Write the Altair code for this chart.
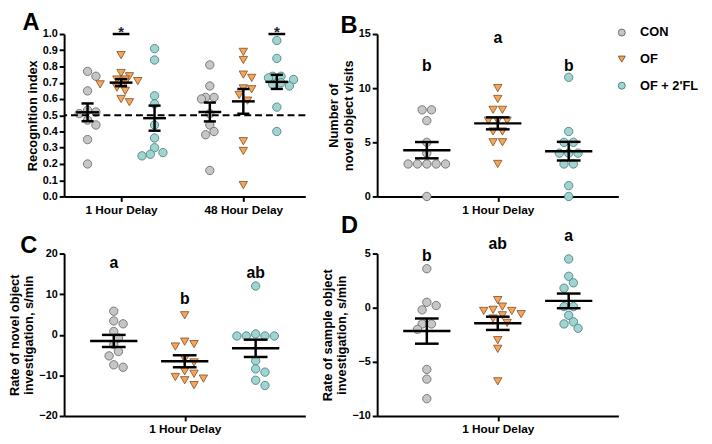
import math
import altair as alt
import pandas as pd

FONT = "Liberation Sans"

groups = ["CON", "OF", "OF + 2'FL"]
fills = ["#c6c6c6", "#f5a65b", "#a1d4d1"]
strokes = ["#6e6e6e", "#8c5a2e", "#4a8583"]
shapes = ["circle", "triangle-down", "circle"]

# Panel A: recognition index
a1_con = [0.77, 0.74, 0.65, 0.53, 0.52, 0.51, 0.47, 0.44, 0.35, 0.20]
a1_of = [0.87, 0.76, 0.74, 0.72, 0.72, 0.71, 0.70, 0.69, 0.67, 0.65, 0.60, 0.58]
a1_fl = [0.91, 0.84, 0.62, 0.57, 0.44, 0.36, 0.30, 0.27, 0.26, 0.25]
a48_con = [0.81, 0.68, 0.61, 0.61, 0.60, 0.51, 0.44, 0.40, 0.38, 0.16]
a48_of = [0.89, 0.84, 0.75, 0.73, 0.665, 0.66, 0.625, 0.59, 0.34, 0.28, 0.07]
a48_fl = [0.96, 0.85, 0.74, 0.74, 0.73, 0.72, 0.70, 0.69, 0.68, 0.55, 0.40]
a_delays = ["1 Hour Delay", "48 Hour Delay"]
a_sig = ["*", "*"]

# Panel B: number of novel object visits
b_con = [8, 8, 7, 5, 4, 3, 3, 3, 3, 3, 0]
b_of = [10, 9, 8, 8, 7, 7, 7, 6, 6, 5, 5, 3]
b_fl = [11, 6, 5, 5, 4, 4, 4, 3, 3, 1, 0]
b_letters = ["b", "a", "b"]
b_letter_y = [11.6, 14.2, 11.6]

# Panel C: rate of novel object investigation
c_con = [5.8, 3.4, 2.7, 0.8, -0.8, -2.4, -4.1, -5.2, -7.4, -8.0]
c_of = [4.8, -1.7, -2.3, -2.9, -6.0, -6.8, -9.0, -9.6, -10.4, -10.8, -11.2, -12.4]
c_fl = [12.0, 0.2, -0.3, -0.3, -0.3, -0.3, -6.4, -8.4, -9.2, -11.2, -12.5]
c_letters = ["a", "b", "ab"]
c_letter_y = [16.5, 7.6, 13.9]

# Panel D: rate of sample object investigation
d_con = [3.6, 0.5, 0.2, -0.2, -1.5, -1.5, -2.0, -5.7, -6.6, -8.4]
d_of = [0.7, 0.1, -0.2, -0.3, -0.3, -0.6, -0.7, -1.0, -1.4, -3.0, -3.8, -6.8]
d_fl = [4.5, 2.9, 2.3, 1.8, 0.1, 0.1, -0.7, -1.3, -1.5, -1.9]
d_letters = ["b", "ab", "a"]
d_letter_y = [4.32, 5.39, 6.13]

W, H = 245, 165


def swarm(vals, ppy, d, mind=0.85):
    n = len(vals)
    order = sorted(range(n), key=lambda i: -vals[i])
    cands = [0.0] + [s * k * 0.5 * d for k in range(1, 40) for s in (1, -1)]
    placed, off = [], [0.0] * n
    for i in order:
        y = vals[i] * ppy
        for c in cands:
            if all((c - px) ** 2 + (y - py) ** 2 >= (mind * d) ** 2 for px, py in placed):
                break
        placed.append((c, y))
        off[i] = c
    for v in set(vals):
        idx = [i for i in range(n) if vals[i] == v]
        if len(idx) > 1:
            m = sum(off[i] for i in idx) / len(idx)
            for i in idx:
                off[i] -= m
    return off


def build(series, ppx, ppy, d, half_mean, half_cap):
    rows, summ = [], []
    for vals, c, g in series:
        offs = swarm(vals, ppy, d)
        for v, o in zip(vals, offs):
            rows.append({"group": g, "x": c + o / ppx, "y": v})
        n = len(vals)
        m = sum(vals) / n
        sd = math.sqrt(sum((v - m) ** 2 for v in vals) / (n - 1))
        se = sd / math.sqrt(n)
        summ.append({"group": g, "xc": c, "xm1": c - half_mean, "xm2": c + half_mean,
                     "xc1": c - half_cap, "xc2": c + half_cap,
                     "mean": m, "lo": m - se, "hi": m + se})
    return pd.DataFrame(rows), pd.DataFrame(summ)


leg = alt.Legend(title=None, orient="none", legendX=560, legendY=-8)


def panel(df, sm, xdom, xvals, xexpr, ydom, yvals, yfmt, ytitle, letter, toff, tdx, extra=None):
    xs = alt.Scale(domain=xdom, nice=False, zero=False)
    ys = alt.Scale(domain=ydom, nice=False, zero=False)
    xa = alt.Axis(values=xvals, labelExpr=xexpr, title=None, grid=False)
    ya = alt.Axis(values=yvals, format=yfmt, title=ytitle, grid=False)

    def X(f):
        return alt.X(f, type="quantitative", scale=xs, axis=xa)

    def Y(f):
        return alt.Y(f, type="quantitative", scale=ys, axis=ya)

    pts = alt.Chart(df).mark_point(filled=True, opacity=1, size=72, strokeWidth=0.9).encode(
        x=X("x"), y=Y("y"),
        fill=alt.Fill("group:N", scale=alt.Scale(domain=groups, range=fills), legend=leg),
        stroke=alt.Stroke("group:N", scale=alt.Scale(domain=groups, range=strokes), legend=leg),
        shape=alt.Shape("group:N", scale=alt.Scale(domain=groups, range=shapes), legend=leg),
    )
    base = alt.Chart(sm)
    mean = base.mark_rule(color="black", strokeWidth=2.5).encode(x=X("xm1"), x2=alt.X2("xm2"), y=Y("mean"))
    vert = base.mark_rule(color="black", strokeWidth=2.5).encode(x=X("xc"), y=Y("lo"), y2=alt.Y2("hi"))
    cap1 = base.mark_rule(color="black", strokeWidth=2.5).encode(x=X("xc1"), x2=alt.X2("xc2"), y=Y("lo"))
    cap2 = base.mark_rule(color="black", strokeWidth=2.5).encode(x=X("xc1"), x2=alt.X2("xc2"), y=Y("hi"))
    layers = [pts, mean, vert, cap1, cap2]
    if extra is not None:
        layers += extra(X, Y)
    return alt.layer(*layers).properties(
        width=W, height=H,
        title=alt.TitleParams(letter, anchor="start", frame="bounds", fontSize=24,
                              fontWeight="bold", font=FONT, color="black", offset=toff, dx=tdx),
    )


# ---- Panel A
ppxA = W / 7.2
ca = [0.7, 1.7, 2.7]
cb = [4.35, 5.35, 6.35]
dfA, smA = build(
    [(a1_con, ca[0], groups[0]), (a1_of, ca[1], groups[1]), (a1_fl, ca[2], groups[2]),
     (a48_con, cb[0], groups[0]), (a48_of, cb[1], groups[1]), (a48_fl, cb[2], groups[2])],
    ppxA, H / 1.0, 8.5, 0.34, 0.18)


def extraA(X, Y):
    dash = alt.Chart(pd.DataFrame({"y": [0.5]})).mark_rule(
        color="black", strokeWidth=2, strokeDash=[7, 4]).encode(y=Y("y"))
    sig = pd.DataFrame({"xc": [ca[1], cb[2]], "x1": [ca[1] - 0.25, cb[2] - 0.25],
                        "x2": [ca[1] + 0.25, cb[2] + 0.25], "y": [1.0, 1.0], "t": a_sig})
    line = alt.Chart(sig).mark_rule(color="black", strokeWidth=2.5).encode(
        x=X("x1"), x2=alt.X2("x2"), y=Y("y"))
    star = alt.Chart(sig).mark_text(font=FONT, fontSize=15, fontWeight="bold", color="#1b1b3a",
                                    baseline="alphabetic", dy=3).encode(x=X("xc"), y=Y("y"), text="t:N")
    return [dash, line, star]


chartA = panel(dfA, smA, [0, 7.2], [ca[1], cb[1]],
               "datum.value < 3 ? '%s' : '%s'" % (a_delays[0], a_delays[1]),
               [0, 1], [round(i * 0.1, 1) for i in range(11)], ".1f",
               "Recognition index", "A", -10, -4, extraA)

# ---- Panels B, C, D
ppx = W / 3.4
cc = [0.7, 1.7, 2.7]


def letters_layer(labels, ys):
    def f(X, Y):
        t = pd.DataFrame({"x": cc, "y": ys, "t": labels})
        return [alt.Chart(t).mark_text(font=FONT, fontSize=16, fontWeight="bold", color="black",
                                       baseline="alphabetic").encode(x=X("x"), y=Y("y"), text="t:N")]
    return f


dfB, smB = build([(b_con, cc[0], groups[0]), (b_of, cc[1], groups[1]), (b_fl, cc[2], groups[2])],
                 ppx, H / 15, 9.5, 0.333, 0.167)
chartB = panel(dfB, smB, [0, 3.4], [1.7], "'1 Hour Delay'", [0, 15], [0, 5, 10, 15], "d",
               ["Number of", "novel object visits"], "B", -10, 13, letters_layer(b_letters, b_letter_y))

dfC, smC = build([(c_con, cc[0], groups[0]), (c_of, cc[1], groups[1]), (c_fl, cc[2], groups[2])],
                 ppx, H / 40, 9.5, 0.333, 0.167)
chartC = panel(dfC, smC, [0, 3.4], [1.7], "'1 Hour Delay'", [-20, 20], [-20, -10, 0, 10, 20], "d",
               ["Rate of novel object", "investigation, s/min"], "C", -10, 12,
               letters_layer(c_letters, c_letter_y))

dfD, smD = build([(d_con, cc[0], groups[0]), (d_of, cc[1], groups[1]), (d_fl, cc[2], groups[2])],
                 ppx, H / 15, 9.5, 0.333, 0.167)
chartD = panel(dfD, smD, [0, 3.4], [1.7], "'1 Hour Delay'", [-10, 5], [-10, -5, 0, 5], "d",
               ["Rate of sample object", "investigation, s/min"], "D", -10, 20,
               letters_layer(d_letters, d_letter_y))

chart = alt.concat(chartA, chartB, chartC, chartD, columns=2,
                   spacing={"row": 58, "column": 73}, bounds="flush").properties(
    padding={"left": 0, "top": 0, "right": 5, "bottom": 5}
).configure_view(stroke=None).configure_axis(
    domainColor="black", domainWidth=2, tickColor="black", tickWidth=2, tickSize=5,
    labelColor="black", labelFont=FONT, labelFontWeight="bold", labelFontSize=11, labelPadding=2,
    titleColor="black", titleFont=FONT, titleFontWeight="bold", titleFontSize=13,
    titleLineHeight=15, titlePadding=3, grid=False,
).configure_axisX(labelFontSize=12, labelPadding=3).configure_legend(
    labelFont=FONT, labelFontSize=13, labelFontWeight="bold", labelColor="black",
    symbolSize=50, symbolStrokeWidth=1, rowPadding=13, labelOffset=12,
)

chart.save("out.html", embed_options={"renderer": "svg", "actions": False})
